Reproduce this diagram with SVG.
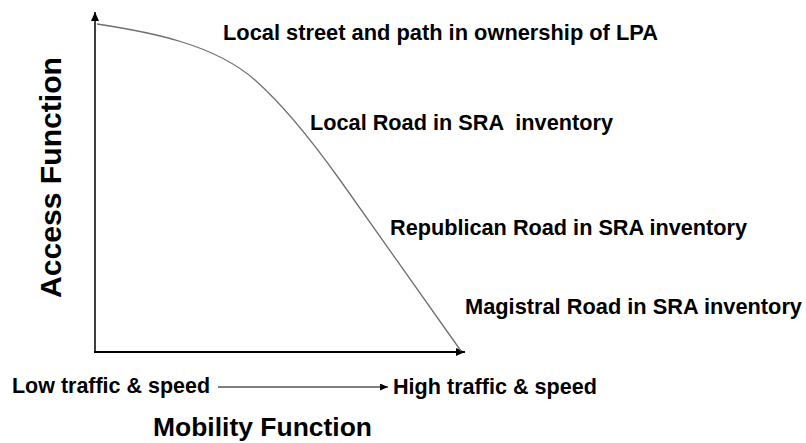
<svg xmlns="http://www.w3.org/2000/svg" width="806" height="443" viewBox="0 0 806 443">
<style>
.t{font-family:"Liberation Sans",Arial,sans-serif;font-weight:bold;fill:#000;white-space:pre}
.lbl{font-size:21.5px}
.ax{stroke:#000;fill:none}
.curve{stroke:#6e6e6e;stroke-width:1.3;fill:none}
</style>
<defs>
<marker id="ah" markerUnits="userSpaceOnUse" markerWidth="10" markerHeight="8" refX="9" refY="4" orient="auto">
<path d="M0,0 L9,4 L0,8 Z" fill="#000"/>
</marker>
<marker id="ahs" markerUnits="userSpaceOnUse" markerWidth="9" markerHeight="7" refX="8" refY="3.5" orient="auto">
<path d="M0,0 L8,3.5 L0,7 Z" fill="#000"/>
</marker>
</defs>
<rect width="806" height="443" fill="#fff"/>
<g id="connectors">
<line class="ax" x1="95" y1="353" x2="95" y2="12" stroke-width="1.5" marker-end="url(#ah)"/>
<line class="ax" x1="94" y1="352" x2="465" y2="352" stroke-width="2" marker-end="url(#ah)"/>
<line class="ax" x1="218" y1="387" x2="388" y2="387" stroke-width="1" marker-end="url(#ahs)"/>
<path class="curve" d="M97,24 C150,32 214,44 255,80 C282,104 315,145 340,180 L461,351"/>
</g>
<g id="label-lpa"><text class="t lbl" x="223" y="40" textLength="435" lengthAdjust="spacingAndGlyphs">Local street and path in ownership of LPA</text></g>
<g id="label-local"><text class="t lbl" x="310" y="130" textLength="303" lengthAdjust="spacingAndGlyphs">Local Road in SRA  inventory</text></g>
<g id="label-republican"><text class="t lbl" x="390" y="235" textLength="357" lengthAdjust="spacingAndGlyphs">Republican Road in SRA inventory</text></g>
<g id="label-magistral"><text class="t lbl" x="465" y="314" textLength="337" lengthAdjust="spacingAndGlyphs">Magistral Road in SRA inventory</text></g>
<g id="label-low"><text class="t lbl" x="12" y="393" textLength="198" lengthAdjust="spacingAndGlyphs">Low traffic &amp; speed</text></g>
<g id="label-high"><text class="t lbl" x="393" y="394" textLength="204" lengthAdjust="spacingAndGlyphs">High traffic &amp; speed</text></g>
<g id="label-mobility"><text class="t" x="153" y="436" font-size="26.5" textLength="219" lengthAdjust="spacingAndGlyphs">Mobility Function</text></g>
<g id="label-access"><text class="t" transform="translate(61,298) rotate(-90)" x="0" y="0" font-size="30" textLength="241" lengthAdjust="spacingAndGlyphs">Access Function</text></g>
</svg>
